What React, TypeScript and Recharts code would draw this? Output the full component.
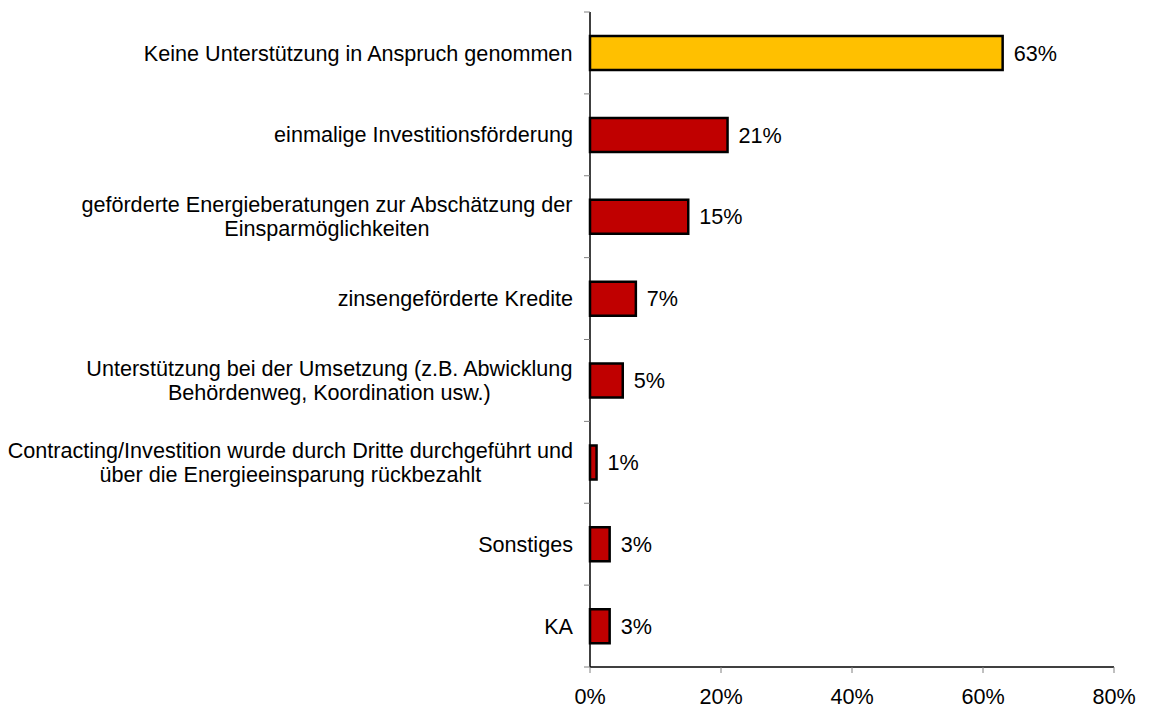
import React from "react";
import { BarChart, Bar, XAxis, YAxis, Cell, LabelList } from "recharts";

const categories = [
  "Keine Unterstützung in Anspruch genommen",
  "einmalige Investitionsförderung",
  "geförderte Energieberatungen zur Abschätzung der\nEinsparmöglichkeiten",
  "zinsengeförderte Kredite",
  "Unterstützung bei der Umsetzung (z.B. Abwicklung\nBehördenweg, Koordination usw.)",
  "Contracting/Investition wurde durch Dritte durchgeführt und\nüber die Energieeinsparung rückbezahlt",
  "Sonstiges",
  "KA",
];
const values = [63, 21, 15, 7, 5, 1, 3, 3];
const xTicks = [0, 20, 40, 60, 80];

const data = categories.map((name, i) => ({ name, value: values[i] }));

const FONT = "'Liberation Sans', Arial, sans-serif";
const FONT_SIZE = 21.6;
const LABEL_GAP = 17;

let ctx: CanvasRenderingContext2D | null = null;
const measure = (s: string) => {
  if (!ctx) ctx = document.createElement("canvas").getContext("2d");
  if (!ctx) return s.length * FONT_SIZE * 0.5;
  ctx.font = `${FONT_SIZE}px ${FONT}`;
  return ctx.measureText(s).width;
};

// label block right-aligned at the axis, lines centred on each other
const CategoryTick = (props: any) => {
  const { x, y, payload } = props;
  const lines = String(payload.value).split("\n");
  const w = Math.max(...lines.map(measure));
  const cx = x - w / 2;
  const lh = 24;
  const y0 = y - ((lines.length - 1) * lh) / 2;
  const half = payload.offset || 0;
  const axisX = x + LABEL_GAP;
  return (
    <g>
      <text textAnchor="middle" fontSize={FONT_SIZE} fill="#000" fontFamily={FONT}>
        {lines.map((l, i) => (
          <tspan key={i} x={cx} y={y0 + i * lh} dy="0.355em">
            {l}
          </tspan>
        ))}
      </text>
      {half > 0 && (
        <line x1={axisX - 6} x2={axisX} y1={y + half} y2={y + half} stroke="#808080" />
      )}
      {half > 0 && payload.index === 0 && (
        <line x1={axisX - 6} x2={axisX} y1={y - half} y2={y - half} stroke="#808080" />
      )}
    </g>
  );
};

export default function App() {
  return (
    <div style={{ position: "absolute", left: 0, top: 0 }}>
      <BarChart
        width={1173}
        height={711}
        data={data}
        layout="vertical"
        margin={{ top: 12, right: 59, bottom: 4, left: 0 }}
        barSize={34}
        style={{ fontFamily: FONT }}
      >
        <XAxis
          type="number"
          domain={[0, 80]}
          ticks={xTicks}
          tickFormatter={(v) => `${v}%`}
          axisLine={{ stroke: "#000", strokeWidth: 1.5 }}
          tickLine={{ stroke: "#808080" }}
          tickSize={6}
          tickMargin={16}
          height={40}
          tick={{ fill: "#000", fontSize: FONT_SIZE }}
        />
        <YAxis
          type="category"
          dataKey="name"
          width={590}
          axisLine={{ stroke: "#000", strokeWidth: 1.5 }}
          tickLine={false}
          tickSize={0}
          tickMargin={LABEL_GAP}
          interval={0}
          tick={<CategoryTick />}
        />
        <Bar dataKey="value" stroke="#000" strokeWidth={2.5} isAnimationActive={false}>
          {data.map((_, i) => (
            <Cell key={i} fill={i === 0 ? "#FFC000" : "#C00000"} />
          ))}
          <LabelList
            dataKey="value"
            position="right"
            offset={11}
            formatter={(v: any) => `${v}%`}
            fill="#000"
            fontSize={FONT_SIZE}
          />
        </Bar>
      </BarChart>
    </div>
  );
}
